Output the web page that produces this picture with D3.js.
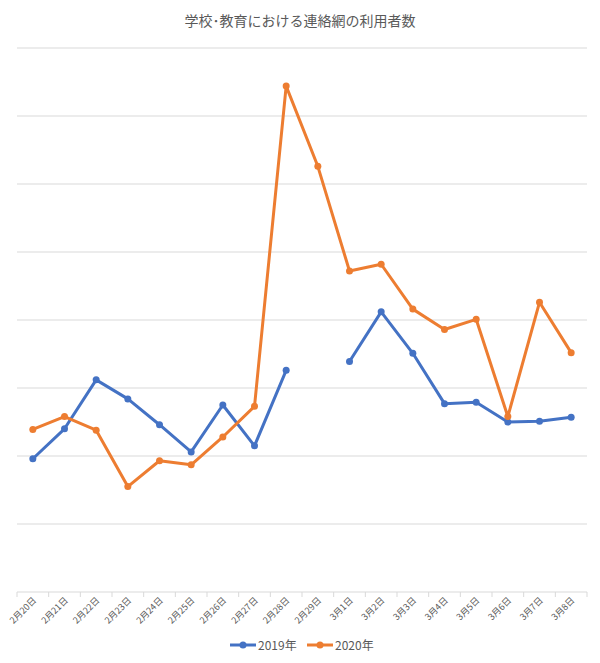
<!DOCTYPE html>
<html>
<head>
<meta charset="utf-8">
<script src="https://cdn.jsdelivr.net/npm/d3@7"></script>
<style>
  body { margin: 0; background: #fff; }
  text { font-family: "Noto Sans CJK JP", "Noto Sans", sans-serif; fill: #595959; }
</style>
</head>
<body>
<svg id="chart" width="600" height="663"></svg>
<script>
// categories and series (units: one gridline step)
const days = ["2月20日","2月21日","2月22日","2月23日","2月24日","2月25日","2月26日","2月27日","2月28日","2月29日",
  "3月1日","3月2日","3月3日","3月4日","3月5日","3月6日","3月7日","3月8日"]
const y2019 = [1.96, 2.40, 3.12, 2.84, 2.46, 2.06, 2.75, 2.15, 3.26, null,
  3.39, 4.12, 3.51, 2.77, 2.79, 2.50, 2.51, 2.57]
const y2020 = [2.39, 2.58, 2.38, 1.55, 1.93, 1.87, 2.28, 2.73, 7.44, 6.26,
  4.72, 4.82, 4.16, 3.86, 4.01, 2.58, 4.26, 3.52]
const gridTicks = [0, 1, 2, 3, 4, 5, 6, 7, 8]
const seriesNames = ["2019年", "2020年"]
const colors = ["#4472C4", "#ED7D31"]

let svg = d3.select("#chart")
let pLeft = 17, pRight = 587, pTop = 48, pBottom = 592

let x = d3.scaleBand().domain(days).range([pLeft, pRight])
let y = d3.scaleLinear().domain([0, 8]).range([pBottom, pTop])

svg.append("text")
  .attr("x", 300).attr("y", 26)
  .attr("text-anchor", "middle")
  .style("font-size", "14px")
  .text("学校･教育における連絡網の利用者数")

// gridlines
svg.append("g")
  .selectAll("line")
  .data(gridTicks.slice(1))
  .enter()
  .append("line")
  .attr("x1", pLeft).attr("x2", pRight)
  .attr("y1", d => y(d)).attr("y2", d => y(d))
  .attr("stroke", "#d9d9d9").attr("stroke-width", 1)

// x axis
let xa = svg.append("g")
  .attr("transform", "translate(0," + pBottom + ")")
xa.append("line").attr("x1", pLeft).attr("x2", pRight).attr("stroke", "#d9d9d9")
xa.selectAll(".tk")
  .data(days.concat(["end"]))
  .enter()
  .append("line")
  .attr("class", "tk")
  .attr("x1", (d, i) => pLeft + i * x.step()).attr("x2", (d, i) => pLeft + i * x.step())
  .attr("y1", 0).attr("y2", 5)
  .attr("stroke", "#d9d9d9")
xa.selectAll(".lbl")
  .data(days)
  .enter()
  .append("text")
  .attr("class", "lbl")
  .attr("transform", d => "translate(" + (x(d) + x.bandwidth() / 2 + 4) + ",9) rotate(-45)")
  .attr("text-anchor", "end")
  .style("font-size", "9px")
  .text(d => d)

let series = [y2019, y2020]
let line = d3.line()
  .defined(d => d != null)
  .x((d, i) => x(days[i]) + x.bandwidth() / 2)
  .y(d => y(d))

series.forEach((s, k) => {
  svg.append("path")
    .datum(s)
    .attr("fill", "none")
    .attr("stroke", colors[k])
    .attr("stroke-width", 3)
    .attr("stroke-linejoin", "round")
    .attr("d", line)
  svg.append("g")
    .selectAll("circle")
    .data(s.map((v, i) => ({v: v, i: i})).filter(d => d.v != null))
    .enter()
    .append("circle")
    .attr("cx", d => x(days[d.i]) + x.bandwidth() / 2)
    .attr("cy", d => y(d.v))
    .attr("r", 3.5)
    .attr("fill", colors[k])
})

// legend
let lx = [230, 307]
seriesNames.forEach((n, k) => {
  let g = svg.append("g").attr("transform", "translate(" + lx[k] + ",645)")
  g.append("line").attr("x1", 0).attr("x2", 26).attr("stroke", colors[k]).attr("stroke-width", 3)
  g.append("circle").attr("cx", 13).attr("r", 3.5).attr("fill", colors[k])
  g.append("text").attr("x", 28).attr("y", 4.5).style("font-size", "12px").text(n)
})
</script>
</body>
</html>
